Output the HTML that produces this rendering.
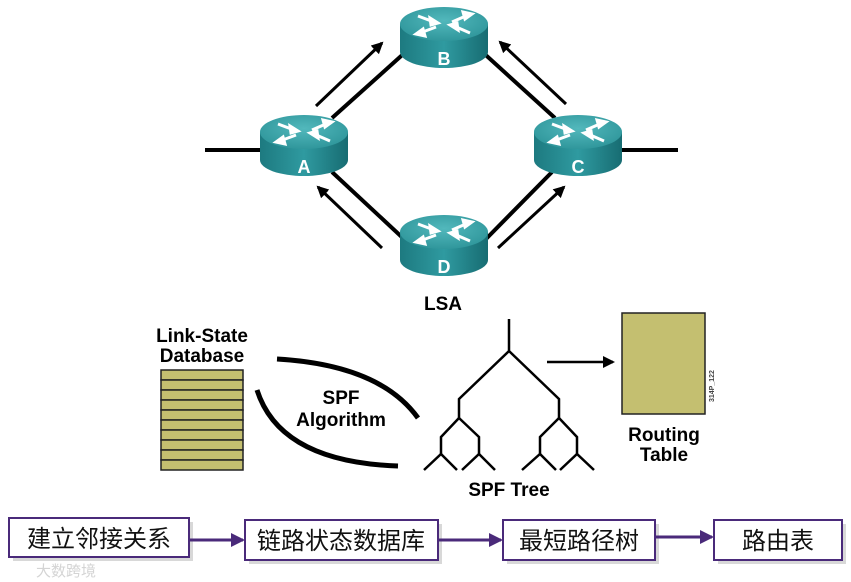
<!DOCTYPE html>
<html><head><meta charset="utf-8"><style>
html,body{margin:0;padding:0;background:#fff;width:851px;height:582px;overflow:hidden}
svg{display:block}
text{font-family:"Liberation Sans",Arial,sans-serif;font-weight:bold}
.cn{font-family:"Liberation Sans","Noto Sans CJK SC",sans-serif;font-weight:normal;font-size:24px;fill:#111}
</style></head><body>
<svg width="851" height="582" viewBox="0 0 851 582" xmlns="http://www.w3.org/2000/svg">
<defs>
<linearGradient id="body" x1="0" x2="1" y1="0" y2="0">
<stop offset="0" stop-color="#1d7a80"/><stop offset="0.5" stop-color="#2f9aa0"/><stop offset="1" stop-color="#176c72"/>
</linearGradient>
<radialGradient id="top" cx="0.5" cy="0.4" r="0.7">
<stop offset="0" stop-color="#52b8bc"/><stop offset="1" stop-color="#2a9196"/>
</radialGradient>
<marker id="ah" markerWidth="12" markerHeight="12" refX="10" refY="6" orient="auto" markerUnits="userSpaceOnUse">
<path d="M0,0 L12,6 L0,12 z" fill="#000"/></marker>
<marker id="ah2" markerWidth="12" markerHeight="12" refX="10" refY="6" orient="auto" markerUnits="userSpaceOnUse">
<path d="M0,0 L12,6 L0,12 z" fill="#000"/></marker>
<marker id="ap" markerWidth="14" markerHeight="14" refX="12" refY="7" orient="auto" markerUnits="userSpaceOnUse">
<path d="M0,0 L14,7 L0,14 z" fill="#4a2a7a"/></marker>
<g id="r">
<path d="M-44,0 L-44,28 A44,16 0 0 0 44,28 L44,0 Z" fill="url(#body)"/>
<ellipse cx="0" cy="0" rx="44" ry="17" fill="url(#top)"/>
<g stroke="#fff" stroke-width="3" fill="#fff">
<line x1="-26" y1="-8" x2="-10" y2="-2"/><path d="M-6,-1 L-14,-6 L-13,1 z"/>
<line x1="8" y1="-2" x2="24" y2="-9"/><path d="M28,-10 L19,-12 L21,-5 z"/>
<line x1="-8" y1="3" x2="-24" y2="9"/><path d="M-28,10 L-19,12 L-21,5 z"/>
<line x1="26" y1="9" x2="10" y2="2"/><path d="M6,1 L14,6 L13,-1 z"/>
</g>
</g>
</defs>

<g stroke="#000" stroke-width="4">
<line x1="205" y1="150" x2="262" y2="150"/>
<line x1="620" y1="150" x2="678" y2="150"/>
<line x1="332" y1="118" x2="410" y2="48"/>
<line x1="478" y1="48" x2="555" y2="118"/>
<line x1="332" y1="172" x2="405" y2="240"/>
<line x1="552" y1="172" x2="485" y2="240"/>
</g>
<g stroke="#000" stroke-width="3">
<line x1="316" y1="106" x2="382" y2="43" marker-end="url(#ah)"/>
<line x1="566" y1="104" x2="500" y2="42" marker-end="url(#ah)"/>
<line x1="382" y1="248" x2="318" y2="187" marker-end="url(#ah)"/>
<line x1="498" y1="248" x2="564" y2="187" marker-end="url(#ah)"/>
</g>

<use href="#r" x="304" y="132"/>
<use href="#r" x="444" y="24"/>
<use href="#r" x="578" y="132"/>
<use href="#r" x="444" y="232"/>
<g fill="#fff" font-size="18" text-anchor="middle">
<text x="304" y="173">A</text><text x="444" y="65">B</text>
<text x="578" y="173">C</text><text x="444" y="273">D</text>
</g>
<text x="443" y="310" font-size="19" text-anchor="middle">LSA</text>

<text x="202" y="342" font-size="19" text-anchor="middle">Link-State</text>
<text x="202" y="362" font-size="19" text-anchor="middle">Database</text>
<g fill="#c4bf70" stroke="#222" stroke-width="1.5">
<rect x="161" y="370" width="82" height="10"/><rect x="161" y="380" width="82" height="10"/>
<rect x="161" y="390" width="82" height="10"/><rect x="161" y="400" width="82" height="10"/>
<rect x="161" y="410" width="82" height="10"/><rect x="161" y="420" width="82" height="10"/>
<rect x="161" y="430" width="82" height="10"/><rect x="161" y="440" width="82" height="10"/>
<rect x="161" y="450" width="82" height="10"/><rect x="161" y="460" width="82" height="10"/>
</g>
<g fill="none" stroke="#000" stroke-width="5">
<path d="M277,359 Q380,365 418,418"/>
<path d="M257,390 Q280,462 398,466"/>
</g>
<text x="341" y="404" font-size="19" text-anchor="middle">SPF</text>
<text x="341" y="426" font-size="19" text-anchor="middle">Algorithm</text>

<g fill="none" stroke="#000" stroke-width="2.5">
<path d="M509,319 V351 L459,399 V418 M509,351 L559,399 V418"/>
<path d="M459,418 L441,437 V454 M459,418 L479,437 V454"/>
<path d="M559,418 L540,437 V454 M559,418 L577,437 V454"/>
<path d="M424,470 L441,454 L457,470 M462,470 L479,454 L495,470"/>
<path d="M522,470 L540,454 L556,470 M560,470 L577,454 L594,470"/>
</g>
<text x="509" y="496" font-size="19" text-anchor="middle">SPF Tree</text>
<line x1="547" y1="362" x2="613" y2="362" stroke="#000" stroke-width="2.5" marker-end="url(#ah2)"/>
<rect x="622" y="313" width="83" height="101" fill="#c4bf70" stroke="#222" stroke-width="1.5"/>
<text x="714" y="402" font-size="7" font-weight="normal" fill="#444" transform="rotate(-90 714 402)">314P_122</text>
<text x="664" y="441" font-size="19" text-anchor="middle">Routing</text>
<text x="664" y="461" font-size="19" text-anchor="middle">Table</text>

<g fill="#d8d8d8">
<rect x="13" y="522" width="180" height="39"/><rect x="249" y="524" width="193" height="40"/>
<rect x="507" y="524" width="152" height="40"/><rect x="718" y="524" width="128" height="40"/>
</g>
<g fill="#fff" stroke="#4a2a7a" stroke-width="2">
<rect x="9" y="518" width="180" height="39"/><rect x="245" y="520" width="193" height="40"/>
<rect x="503" y="520" width="152" height="40"/><rect x="714" y="520" width="128" height="40"/>
</g>
<g stroke="#4a2a7a" stroke-width="3">
<line x1="190" y1="540" x2="243" y2="540" marker-end="url(#ap)"/>
<line x1="439" y1="540" x2="501" y2="540" marker-end="url(#ap)"/>
<line x1="656" y1="537" x2="712" y2="537" marker-end="url(#ap)"/>
</g>
<text class="cn" x="99" y="547" text-anchor="middle">建立邻接关系</text>
<text class="cn" x="341" y="549" text-anchor="middle">链路状态数据库</text>
<text class="cn" x="579" y="549" text-anchor="middle">最短路径树</text>
<text class="cn" x="778" y="549" text-anchor="middle">路由表</text>
<text class="cn" x="36" y="576" style="font-size:15px;fill:#d4d4d4">大数跨境</text>
</svg>
</body></html>
